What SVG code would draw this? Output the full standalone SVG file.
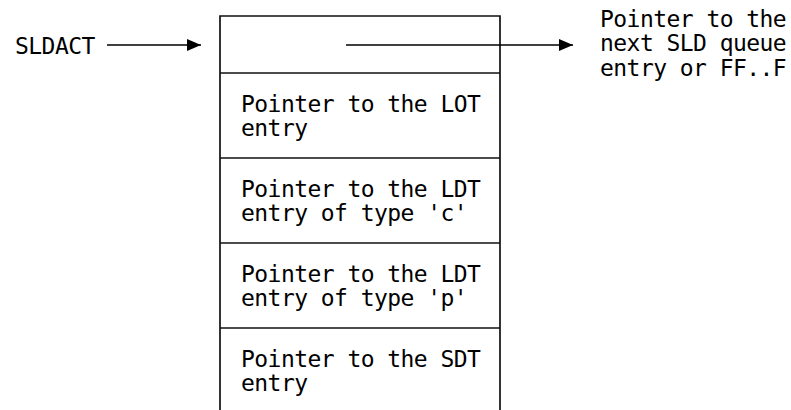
<svg xmlns="http://www.w3.org/2000/svg" width="791" height="410" viewBox="0 0 791 410">
<style>
  text { font-family: "DejaVu Sans Mono", "Liberation Mono", monospace; font-size: 23px; letter-spacing: -0.55px; fill: #000; }
  .side { stroke: #111; stroke-width: 1.7; fill: none; }
  .conn { stroke: #000; stroke-width: 1.5; fill: none; marker-end: url(#ah); }
</style>
<defs>
  <marker id="ah" markerWidth="14" markerHeight="12" refX="14" refY="6" orient="auto" markerUnits="userSpaceOnUse">
    <path d="M0,0 L14,6 L0,12 Z" fill="#000"/>
  </marker>
</defs>
<rect x="0" y="0" width="791" height="410" fill="#fff"/>
<g id="queue-entry">
  <path class="side" d="M220,410 V16 H500 V410"/>
  <g id="row-next"><line class="side" x1="220" y1="73" x2="500" y2="73"/></g>
  <g id="row-lot">
    <line class="side" x1="220" y1="158" x2="500" y2="158"/>
    <text x="241" y="112">Pointer to the LOT</text>
    <text x="241" y="136">entry</text>
  </g>
  <g id="row-ldt-c">
    <line class="side" x1="220" y1="243" x2="500" y2="243"/>
    <text x="241" y="197">Pointer to the LDT</text>
    <text x="241" y="221">entry of type 'c'</text>
  </g>
  <g id="row-ldt-p">
    <line class="side" x1="220" y1="328" x2="500" y2="328"/>
    <text x="241" y="282">Pointer to the LDT</text>
    <text x="241" y="306">entry of type 'p'</text>
  </g>
  <g id="row-sdt">
    <text x="241" y="367">Pointer to the SDT</text>
    <text x="241" y="391">entry</text>
  </g>
</g>
<g id="sldact">
  <text x="15" y="54">SLDACT</text>
</g>
<g id="next-label">
  <text x="600" y="27">Pointer to the</text>
  <text x="600" y="51">next SLD queue</text>
  <text x="600" y="76">entry or FF..F</text>
</g>
<g id="connectors">
  <line class="conn" x1="107" y1="45" x2="201" y2="45"/>
  <line class="conn" x1="346" y1="45" x2="573" y2="45"/>
</g>
</svg>
